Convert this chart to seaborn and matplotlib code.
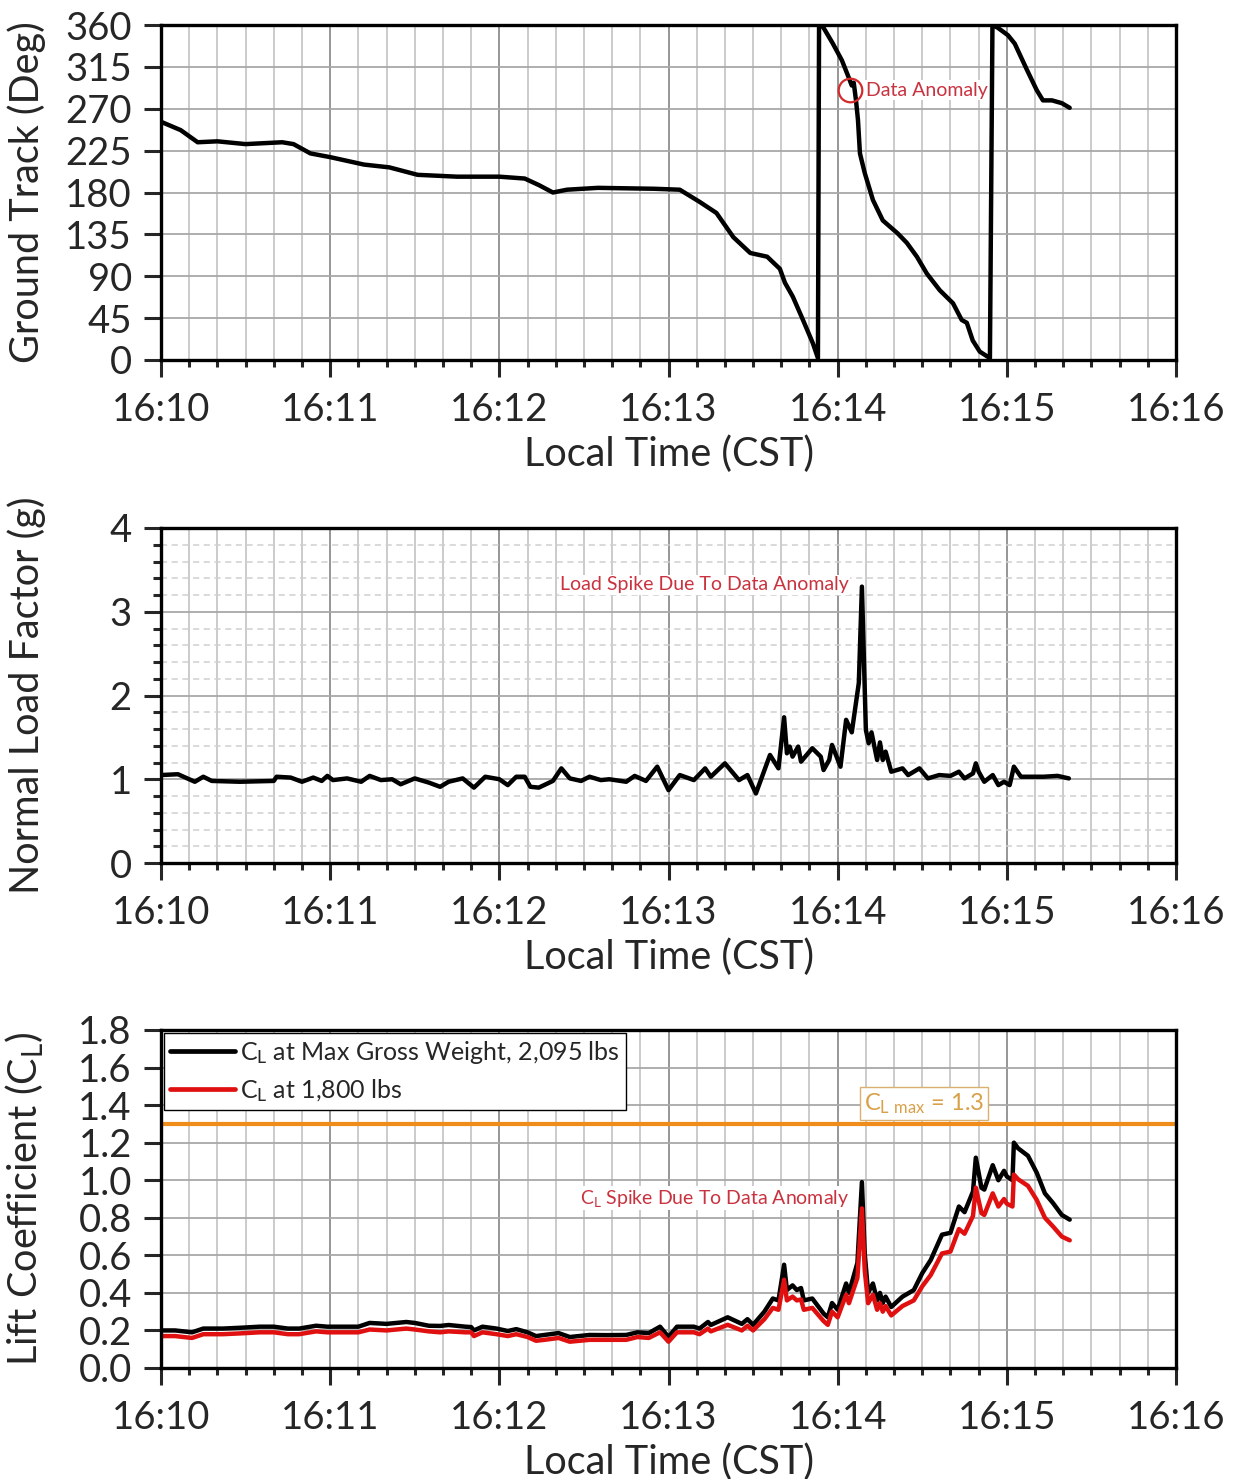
import matplotlib
matplotlib.use('Agg')
import matplotlib.pyplot as plt
import matplotlib.ticker as mticker
import seaborn as sns

# time axis: seconds after 16:10:00 local (CST)

# ground track
gt_sec = [0, 7, 13, 20, 30, 43, 47, 53, 60, 72, 81, 91, 105, 120, 129, 134, 139, 144,
          155, 175, 184, 191, 197, 203, 209, 215, 219.5, 221.3, 224.1, 227.7, 231.2, 233.0,
          233.4, 234.8, 238.3, 241.5, 243.6, 245.0, 245.7, 246.5, 247.2, 247.9, 249.6,
          252.5, 256.0, 261.3, 264.5, 268.1, 271.6, 276.2, 280.9, 284.0, 285.8, 287.9,
          290.4, 294.0, 294.9, 296.8, 300.4, 302.8, 307.1, 310.6, 312.8, 316.0, 319.5, 322.3]
gt_deg = [256, 247, 234, 235, 232, 234, 232, 222, 218, 210, 207, 199, 197, 197, 195, 188, 180, 183,
          185, 184, 183, 170, 158, 132, 115, 111, 98, 83, 68, 43, 18, 2,
          360, 358, 340, 322, 306, 295, 298, 279, 258, 222, 201,
          172, 150, 136, 126, 111, 93, 75, 61, 43, 40, 21,
          9, 2, 360, 357, 349, 340, 312, 290, 279, 279, 276, 271]

# normal load factor
nz_sec = [0, 6, 12, 15, 18, 28, 40, 41, 46, 50, 54, 57, 59, 61, 66, 71, 74, 78, 82, 85,
          90, 95, 99, 102, 107, 111, 115, 120, 123, 126, 129, 131, 134, 139, 142, 145, 149,
          152, 156, 159, 165, 168, 172, 176, 180, 184, 189, 193, 195, 200, 205, 208, 211,
          216, 219, 221, 222, 223, 224, 226, 227, 231, 234, 235, 237, 238, 241, 243, 245,
          247.5, 248.6, 250, 251, 252, 254, 255, 256, 257, 259, 263, 265, 269, 272, 276,
          280, 283, 285, 288, 289, 290, 292, 295, 297, 299, 301, 302.5, 305, 308, 313, 318, 322]
nz_g = [1.05, 1.06, 0.97, 1.03, 0.98, 0.97, 0.98, 1.03, 1.02, 0.97, 1.02, 0.98, 1.04, 0.99,
        1.01, 0.97, 1.04, 0.99, 1.00, 0.94, 1.01, 0.96, 0.91, 0.97, 1.01, 0.90, 1.03, 1.00,
        0.93, 1.03, 1.03, 0.91, 0.90, 0.98, 1.13, 1.01, 0.98, 1.03, 0.99, 1.00, 0.97, 1.04,
        0.98, 1.15, 0.87, 1.05, 0.99, 1.13, 1.03, 1.19, 0.99, 1.05, 0.83, 1.29, 1.13, 1.74,
        1.31, 1.39, 1.27, 1.39, 1.21, 1.37, 1.27, 1.11, 1.23, 1.41, 1.15, 1.71, 1.56, 2.15,
        3.30, 1.59, 1.43, 1.56, 1.23, 1.44, 1.23, 1.33, 1.09, 1.13, 1.05, 1.13, 1.01, 1.05,
        1.04, 1.09, 1.01, 1.07, 1.19, 1.09, 0.97, 1.05, 0.93, 0.97, 0.93, 1.15, 1.03, 1.03,
        1.03, 1.04, 1.01]

# lift coefficient
cl_sec = [0, 5, 11, 15, 22, 29, 35, 40, 45, 49, 55, 59, 65, 70, 74, 80, 87, 90, 95, 99,
          102, 108, 110, 111, 114, 119, 123, 126, 130, 133, 136, 141, 145, 152, 158, 165,
          169, 173, 177, 180, 183, 189, 191, 194, 195, 201, 206, 208, 210, 214, 217, 219,
          221, 222, 224, 225.5, 227, 228, 231, 235, 236.5, 238, 240, 243, 244, 247, 248.6,
          249.6, 250.8, 252.5, 254, 255, 256, 257, 259, 263, 267, 270, 273, 277, 280, 283,
          285, 288, 289, 291, 292, 295, 297, 299, 300, 302, 302.5, 304, 307.5, 310.6, 313.5,
          316.3, 319.5, 322.3]
cl_2095 = [0.20, 0.20, 0.19, 0.21, 0.21, 0.215, 0.22, 0.22, 0.21, 0.21, 0.225, 0.22, 0.22,
           0.22, 0.24, 0.235, 0.245, 0.24, 0.225, 0.224, 0.229, 0.22, 0.218, 0.20, 0.22, 0.21,
           0.197, 0.207, 0.19, 0.17, 0.176, 0.186, 0.165, 0.176, 0.175, 0.176, 0.19, 0.186,
           0.22, 0.165, 0.22, 0.22, 0.21, 0.245, 0.229, 0.27, 0.235, 0.26, 0.23, 0.30, 0.37,
           0.36, 0.55, 0.415, 0.44, 0.415, 0.426, 0.36, 0.37, 0.29, 0.27, 0.346, 0.31, 0.45,
           0.40, 0.56, 0.99, 0.61, 0.40, 0.45, 0.36, 0.40, 0.346, 0.38, 0.325, 0.38, 0.415,
           0.505, 0.575, 0.71, 0.72, 0.86, 0.83, 0.94, 1.12, 0.96, 0.95, 1.08, 1.00, 1.05,
           1.02, 1.00, 1.20, 1.17, 1.13, 1.04, 0.93, 0.88, 0.815, 0.79]
cl_1800 = [0.17, 0.17, 0.16, 0.18, 0.18, 0.185, 0.19, 0.19, 0.18, 0.18, 0.195, 0.19, 0.19,
           0.19, 0.205, 0.20, 0.21, 0.205, 0.195, 0.19, 0.195, 0.19, 0.19, 0.17, 0.19, 0.18,
           0.17, 0.18, 0.165, 0.145, 0.15, 0.16, 0.14, 0.15, 0.15, 0.15, 0.165, 0.16, 0.19,
           0.14, 0.19, 0.19, 0.18, 0.21, 0.195, 0.23, 0.20, 0.225, 0.20, 0.26, 0.32, 0.31,
           0.47, 0.36, 0.38, 0.36, 0.365, 0.31, 0.32, 0.25, 0.23, 0.30, 0.27, 0.39, 0.345,
           0.48, 0.85, 0.52, 0.345, 0.39, 0.31, 0.345, 0.30, 0.33, 0.28, 0.33, 0.36, 0.435,
           0.495, 0.61, 0.62, 0.74, 0.715, 0.81, 0.96, 0.825, 0.815, 0.93, 0.86, 0.90, 0.875,
           0.86, 1.03, 1.005, 0.97, 0.895, 0.80, 0.755, 0.70, 0.68]
cl_max = 1.3

sns.set_style('ticks')
plt.rcParams['font.family'] = ['Lato', 'DejaVu Sans']
plt.rcParams['mathtext.default'] = 'regular'

RED_TXT = '#c9323f'
W = 1236
H = 1479
fig = plt.figure(figsize=(W / 100, H / 100), dpi=100)


def make_axes(top_px, bot_px):
    ax = fig.add_axes([161 / W, 1 - bot_px / H, 1015 / W, (bot_px - top_px) / H])
    ax.set_xlim(0, 360)
    ax.xaxis.set_major_locator(mticker.MultipleLocator(60))
    ax.xaxis.set_minor_locator(mticker.MultipleLocator(10))
    ax.xaxis.set_major_formatter(mticker.FuncFormatter(lambda v, p: f'16:{10 + int(round(v / 60)):02d}'))
    ax.grid(which='major', axis='x', color='#8e8e8e', lw=1.3)
    ax.grid(which='minor', axis='x', color='#cbcbcb', lw=1.4)
    ax.grid(which='major', axis='y', color='#a8a8a8', lw=1.3)
    ax.set_axisbelow(True)
    for s in ax.spines.values():
        s.set_linewidth(2.4)
        s.set_color('black')
    ax.tick_params(which='major', length=12, width=2.2, labelsize=27.5)
    ax.tick_params(axis='x', which='major', pad=11)
    ax.tick_params(axis='y', which='major', pad=9)
    ax.tick_params(which='minor', length=5, width=2.2)
    ax.tick_params(axis='y', which='minor', length=6)
    ax.set_xlabel('Local Time (CST)', fontsize=28.5, labelpad=5)
    ax.yaxis.set_label_coords(-0.113, 0.5)
    return ax


#GROUND TRACK
ax1 = make_axes(25, 360)
sns.lineplot(x=gt_sec, y=gt_deg, ax=ax1, color='black', lw=3.2, sort=False, estimator=None)
ax1.set_ylim(0, 360)
ax1.yaxis.set_major_locator(mticker.MultipleLocator(45))
ax1.set_ylabel('Ground Track (Deg)', fontsize=28.5)
ax1.plot([244.5], [290], marker='o', ms=17, mfc='none', mec='#d42a2a', mew=1.6)
ax1.text(250, 290, 'Data Anomaly', color=RED_TXT, fontsize=14, va='center', ha='left',
         bbox=dict(facecolor='white', edgecolor='none', pad=1))

#NORMAL LOAD FACTOR
ax2 = make_axes(528, 863)
sns.lineplot(x=nz_sec, y=nz_g, ax=ax2, color='black', lw=3.2, sort=False, estimator=None)
ax2.set_ylim(0, 4)
ax2.yaxis.set_major_locator(mticker.MultipleLocator(1))
ax2.yaxis.set_minor_locator(mticker.MultipleLocator(0.2))
ax2.grid(which='minor', axis='y', color='#cfcfcf', lw=1.1, ls=(0, (4, 3)))
ax2.set_ylabel('Normal Load Factor (g)', fontsize=28.5)
ax2.text(244, 3.32, 'Load Spike Due To Data Anomaly', color=RED_TXT, fontsize=14, va='center', ha='right',
         bbox=dict(facecolor='white', edgecolor='none', pad=1))

#LIFT COEFFICIENT
ax3 = make_axes(1030, 1368)
sns.lineplot(x=cl_sec, y=cl_2095, ax=ax3, color='black', lw=3.2, sort=False, estimator=None,
             label='C$_L$ at Max Gross Weight, 2,095 lbs')
sns.lineplot(x=cl_sec, y=cl_1800, ax=ax3, color='#e01010', lw=3.2, sort=False, estimator=None,
             label='C$_L$ at 1,800 lbs')
ax3.axhline(cl_max, color='#f08c1a', lw=3)
ax3.set_ylim(0, 1.8)
ax3.yaxis.set_major_locator(mticker.MultipleLocator(0.2))
ax3.yaxis.set_major_formatter(mticker.FormatStrFormatter('%.1f'))
ax3.set_ylabel('Lift Coefficient (C$_L$)', fontsize=28.5)
leg = ax3.legend(loc='upper left', bbox_to_anchor=(0, 1), borderaxespad=0.1, fontsize=18,
                 handlelength=2.6, handletextpad=0.2, labelspacing=0.45, borderpad=0.25,
                 fancybox=False, framealpha=1, edgecolor='black')
leg.get_frame().set_linewidth(1.0)
for h in leg.get_lines():
    h.set_linewidth(3.4)
ax3.text(270.6, 1.41, 'C$_{L\\ max}$ = 1.3', color='#d9a04a', fontsize=17, ha='center', va='center',
         bbox=dict(facecolor='white', edgecolor='#d8b070', lw=1.0, pad=3))
ax3.text(244, 0.905, 'C$_L$ Spike Due To Data Anomaly', color=RED_TXT, fontsize=14, va='center', ha='right',
         bbox=dict(facecolor='white', edgecolor='none', pad=1))

fig.savefig('out.png', dpi=100)
